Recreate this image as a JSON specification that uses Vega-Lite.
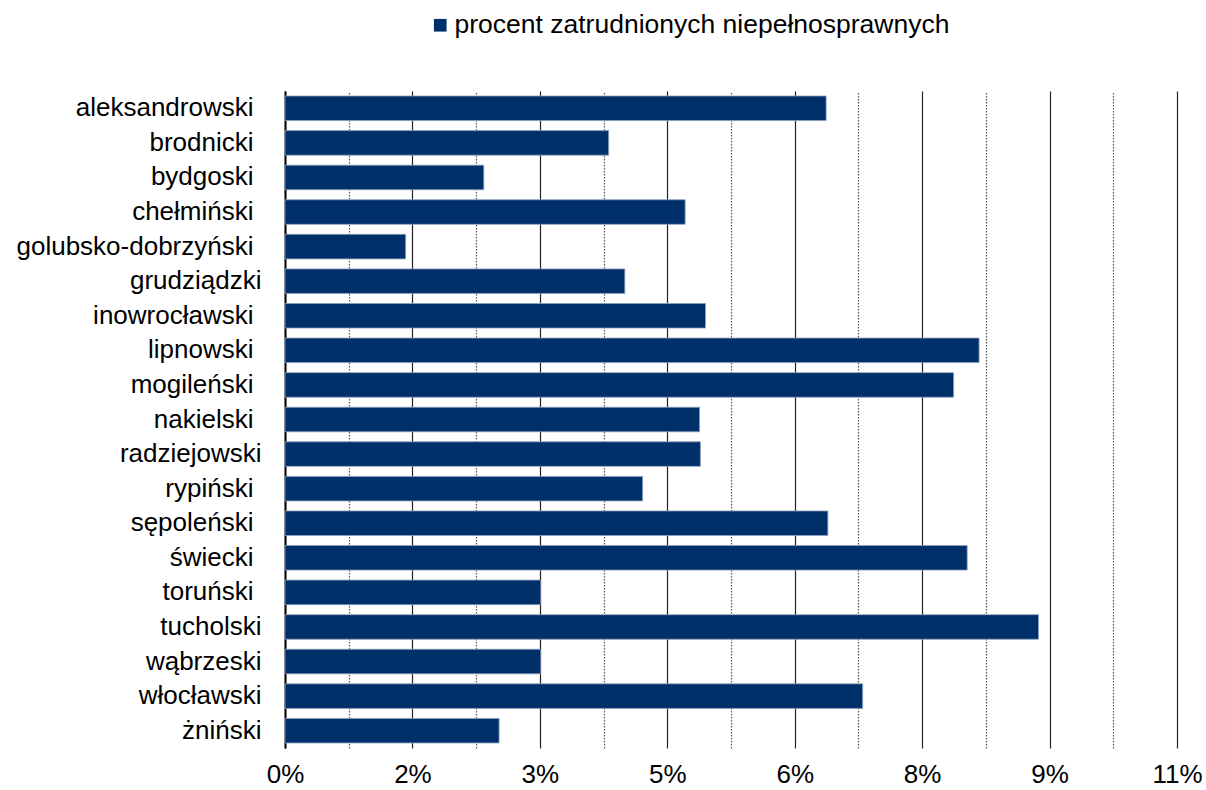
{
  "$schema": "https://vega.github.io/schema/vega-lite/v6.json",
  "autosize": "none",
  "width": 892,
  "height": 657,
  "padding": {"left": 285, "top": 91, "right": 29, "bottom": 42},
  "background": "white",
  "config": {
    "view": {"stroke": null},
    "font": "Liberation Sans"
  },
  "data": {
    "values": [
      {"powiat": "aleksandrowski", "seria": "procent zatrudnionych niepełnosprawnych", "procent": 0.0637},
      {"powiat": "brodnicki", "seria": "procent zatrudnionych niepełnosprawnych", "procent": 0.0381},
      {"powiat": "bydgoski", "seria": "procent zatrudnionych niepełnosprawnych", "procent": 0.0234},
      {"powiat": "chełmiński", "seria": "procent zatrudnionych niepełnosprawnych", "procent": 0.0471},
      {"powiat": "golubsko-dobrzyński", "seria": "procent zatrudnionych niepełnosprawnych", "procent": 0.0142},
      {"powiat": "grudziądzki", "seria": "procent zatrudnionych niepełnosprawnych", "procent": 0.0400},
      {"powiat": "inowrocławski", "seria": "procent zatrudnionych niepełnosprawnych", "procent": 0.0495},
      {"powiat": "lipnowski", "seria": "procent zatrudnionych niepełnosprawnych", "procent": 0.0817},
      {"powiat": "mogileński", "seria": "procent zatrudnionych niepełnosprawnych", "procent": 0.0787},
      {"powiat": "nakielski", "seria": "procent zatrudnionych niepełnosprawnych", "procent": 0.0488},
      {"powiat": "radziejowski", "seria": "procent zatrudnionych niepełnosprawnych", "procent": 0.0489},
      {"powiat": "rypiński", "seria": "procent zatrudnionych niepełnosprawnych", "procent": 0.0421},
      {"powiat": "sępoleński", "seria": "procent zatrudnionych niepełnosprawnych", "procent": 0.0639},
      {"powiat": "świecki", "seria": "procent zatrudnionych niepełnosprawnych", "procent": 0.0803},
      {"powiat": "toruński", "seria": "procent zatrudnionych niepełnosprawnych", "procent": 0.0301},
      {"powiat": "tucholski", "seria": "procent zatrudnionych niepełnosprawnych", "procent": 0.0887},
      {"powiat": "wąbrzeski", "seria": "procent zatrudnionych niepełnosprawnych", "procent": 0.0301},
      {"powiat": "włocławski", "seria": "procent zatrudnionych niepełnosprawnych", "procent": 0.0680},
      {"powiat": "żniński", "seria": "procent zatrudnionych niepełnosprawnych", "procent": 0.0252}
    ]
  },
  "mark": {"type": "bar", "stroke": "#8ea0bd", "strokeWidth": 0.8},
  "encoding": {
    "y": {
      "field": "powiat",
      "type": "nominal",
      "sort": null,
      "scale": {"paddingInner": 0.29, "paddingOuter": 0.145},
      "axis": {
        "title": null,
        "ticks": false,
        "domain": true,
        "domainColor": "#000000",
        "domainWidth": 2,
        "labelFont": "Liberation Sans",
        "labelFontSize": 26,
        "labelColor": "#000000",
        "labelPadding": {"condition": {"test": "indexof(['grudziądzki', 'radziejowski', 'tucholski', 'wąbrzeski', 'włocławski', 'żniński'], datum.value) >= 0", "value": 24}, "value": 32},
        "labelLimit": 0
      }
    },
    "x": {
      "field": "procent",
      "type": "quantitative",
      "scale": {"domain": [0, 0.105], "nice": false},
      "axis": {
        "title": null,
        "values": [0, 0.0075, 0.015, 0.0225, 0.03, 0.0375, 0.045, 0.0525, 0.06, 0.0675, 0.075, 0.0825, 0.09, 0.0975, 0.105],
        "labelExpr": "round(datum.value * 10000) % 150 != 0 ? '' : format(datum.value + 0.00001, '.0%')",
        "domain": false,
        "ticks": false,
        "grid": true,
        "gridColor": {"condition": {"test": "round(datum.value * 10000) % 150 != 0", "value": "#555555"}, "value": "#222222"},
        "gridDash": {"condition": {"test": "round(datum.value * 10000) % 150 != 0", "value": [1.5, 1.5]}, "value": []},
        "gridWidth": 1.2,
        "labelFont": "Liberation Sans",
        "labelFontSize": 26,
        "labelColor": "#000000",
        "labelPadding": 13,
        "labelFlush": false,
        "labelOverlap": false
      }
    },
    "color": {
      "field": "seria",
      "type": "nominal",
      "scale": {"range": ["#003069"]},
      "legend": {
        "title": null,
        "orient": "none",
        "legendX": 142,
        "legendY": -79,
        "symbolType": "square",
        "symbolSize": 160,
        "symbolStrokeWidth": 0,
        "labelFont": "Liberation Sans",
        "labelFontSize": 26.5,
        "labelColor": "#000000",
        "labelOffset": 1,
        "labelLimit": 0,
        "padding": 0
      }
    }
  }
}
